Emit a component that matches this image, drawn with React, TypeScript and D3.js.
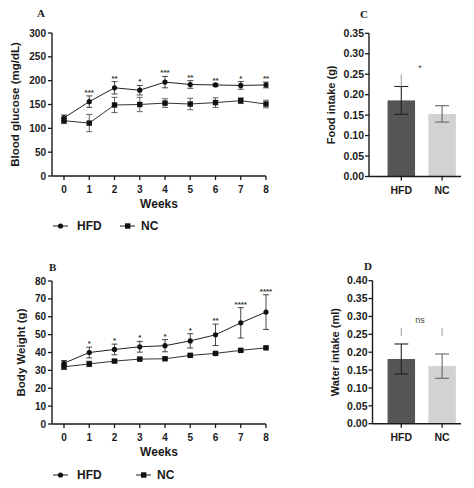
import React from "react";
import * as d3 from "d3";

const weeks = [0, 1, 2, 3, 4, 5, 6, 7, 8];
const glucoseHFD = [122, 156, 185, 180, 197, 192, 191, 190, 191];
const glucoseHFDErr = [6, 12, 13, 10, 12, 8, 3, 8, 6];
const glucoseNC = [116, 111, 149, 150, 153, 151, 154, 158, 151];
const glucoseNCErr = [6, 18, 16, 15, 9, 12, 10, 6, 8];
const glucoseSig = ["", "***", "**", "*", "***", "**", "**", "*", "**"];
const glucoseTicks = [0, 50, 100, 150, 200, 250, 300];

const weightHFD = [34, 40, 41.7, 43.2, 43.8, 46.5, 49.9, 56.6, 62.6];
const weightHFDErr = [1.5, 3, 3, 3, 3.4, 4, 6, 8.5, 9.7];
const weightNC = [32, 33.6, 35.2, 36.3, 36.5, 38.4, 39.5, 41.2, 42.6];
const weightNCErr = [1.5, 1.5, 0.8, 0.6, 0.6, 0.6, 0.6, 0.6, 0.6];
const weightSig = ["", "*", "*", "*", "*", "*", "**", "****", "****"];
const weightTicks = [0, 10, 20, 30, 40, 50, 60, 70, 80];

const groups = ["HFD", "NC"];
const food = [0.186, 0.153];
const foodErr = [0.034, 0.02];
const foodTicks = [0, 0.05, 0.1, 0.15, 0.2, 0.25, 0.3, 0.35];
const foodSig = "*";
const water = [0.181, 0.161];
const waterErr = [0.042, 0.034];
const waterTicks = [0, 0.05, 0.1, 0.15, 0.2, 0.25, 0.3, 0.35, 0.4];
const waterSig = "ns";

const FONT = "Liberation Sans, Arial, sans-serif";
const SERIF = "Liberation Serif, Times New Roman, serif";
const INK = "#1a1a1a";

function LinePanel({ letter, letterX, letterY, y, ticks, title, titleX, hfd, hfdErr, nc, ncErr, sig, legendY, ncLegendX }: any) {
  const x = d3.scaleLinear().domain([0, 8]).range([64, 266]);
  const axisX = 52;
  const y0 = y(0);
  const line = d3.line<number>().x((_, i) => x(weeks[i])).y((v) => y(v));
  const ytop = y.range()[1];
  const cap = 3;
  const errBars = (vals: number[], errs: number[], color: string) =>
    vals.map((v, i) => (
      <g key={i} stroke={color} strokeWidth={0.9}>
        <line x1={x(weeks[i])} x2={x(weeks[i])} y1={y(v - errs[i])} y2={y(v + errs[i])} />
        <line x1={x(weeks[i]) - cap} x2={x(weeks[i]) + cap} y1={y(v - errs[i])} y2={y(v - errs[i])} />
        <line x1={x(weeks[i]) - cap} x2={x(weeks[i]) + cap} y1={y(v + errs[i])} y2={y(v + errs[i])} />
      </g>
    ));
  return (
    <g fontFamily={FONT}>
      <text x={letterX} y={letterY} fontFamily={SERIF} fontWeight="bold" fontSize={11} fill={INK}>{letter}</text>
      <line x1={axisX} x2={axisX} y1={ytop} y2={y0} stroke={INK} strokeWidth={1.4} />
      {ticks.map((t: number) => (
        <g key={t}>
          <line x1={axisX - 4} x2={axisX} y1={y(t)} y2={y(t)} stroke={INK} strokeWidth={1.3} />
          <text x={axisX - 6} y={y(t)} dy="0.35em" textAnchor="end" fontSize={10} fontWeight="bold" fill={INK}>{t}</text>
        </g>
      ))}
      <text transform={`translate(${titleX},${(ytop + y0) / 2}) rotate(-90)`} textAnchor="middle" fontSize={11.5} fontWeight="bold" fill={INK}>{title}</text>
      <line x1={axisX} x2={x(8)} y1={y0} y2={y0} stroke={INK} strokeWidth={1.4} />
      {weeks.map((w) => (
        <g key={w}>
          <line x1={x(w)} x2={x(w)} y1={y0} y2={y0 + 4} stroke={INK} strokeWidth={1.3} />
          <text x={x(w)} y={y0 + 10} dy="0.71em" textAnchor="middle" fontSize={10} fontWeight="bold" fill={INK}>{w}</text>
        </g>
      ))}
      <text x={(axisX + x(8)) / 2} y={y0 + 32} textAnchor="middle" fontSize={12} fontWeight="bold" fill={INK}>Weeks</text>
      {errBars(nc, ncErr, "#555")}
      {errBars(hfd, hfdErr, "#333")}
      <path d={line(nc) || ""} fill="none" stroke="#333" strokeWidth={1} />
      <path d={line(hfd) || ""} fill="none" stroke="#222" strokeWidth={1} />
      {nc.map((v: number, i: number) => (
        <rect key={i} x={x(weeks[i]) - 2.7} y={y(v) - 2.7} width={5.4} height={5.4} fill="#111" />
      ))}
      {hfd.map((v: number, i: number) => (
        <circle key={i} cx={x(weeks[i])} cy={y(v)} r={2.6} fill="#111" />
      ))}
      {sig.map((s: string, i: number) => (
        <text key={i} x={x(weeks[i])} y={y(hfd[i] + hfdErr[i]) - 1} textAnchor="middle" fontSize={8} fontWeight="bold" fill="#333">{s}</text>
      ))}
      <line x1={53} x2={68} y1={legendY} y2={legendY} stroke={INK} strokeWidth={1} />
      <circle cx={60.5} cy={legendY} r={2.6} fill="#111" />
      <text x={77} y={legendY} dy="0.35em" fontSize={12} fontWeight="bold" fill={INK}>HFD</text>
      <line x1={ncLegendX} x2={ncLegendX + 15} y1={legendY} y2={legendY} stroke={INK} strokeWidth={1} />
      <rect x={ncLegendX + 5} y={legendY - 2.7} width={5.4} height={5.4} fill="#111" />
      <text x={ncLegendX + 21} y={legendY} dy="0.35em" fontSize={12} fontWeight="bold" fill={INK}>NC</text>
    </g>
  );
}

function BarPanel({ letter, letterX, letterY, y, ticks, title, axisX, vals, errs, sig, sigY, faint }: any) {
  const x = d3.scalePoint().domain(groups).range([401.3, 442.1]);
  const bw = 27.5;
  const y0 = y(0);
  const ytop = y.range()[1];
  const colors = ["#555555", "#d2d2d2"];
  const errColors = ["#222", "#666"];
  const cap = 7;
  return (
    <g fontFamily={FONT}>
      <text x={letterX} y={letterY} fontFamily={SERIF} fontWeight="bold" fontSize={11} fill={INK}>{letter}</text>
      {groups.map((g, i) => (
        <rect key={g} x={(x(g) as number) - bw / 2} y={y(vals[i])} width={bw} height={y0 - y(vals[i])} fill={colors[i]} />
      ))}
      {groups.map((g, i) => {
        const cx = x(g) as number;
        return (
          <g key={g} stroke={errColors[i]} strokeWidth={1.1}>
            <line x1={cx} x2={cx} y1={y(vals[i] - errs[i])} y2={y(vals[i] + errs[i])} />
            <line x1={cx - cap} x2={cx + cap} y1={y(vals[i] + errs[i])} y2={y(vals[i] + errs[i])} />
            <line x1={cx - cap} x2={cx + cap} y1={y(vals[i] - errs[i])} y2={y(vals[i] - errs[i])} />
          </g>
        );
      })}
      {faint.map((f: any, i: number) => (
        <line key={i} x1={x(f.g) as number} x2={x(f.g) as number} y1={y(f.a)} y2={y(f.b)} stroke="#aaa" strokeWidth={1.2} />
      ))}
      <text x={420} y={sigY} textAnchor="middle" fontSize={9} fill="#444">{sig}</text>
      <line x1={axisX} x2={axisX} y1={ytop} y2={y0} stroke={INK} strokeWidth={1.4} />
      {ticks.map((t: number) => (
        <g key={t}>
          <line x1={axisX - 4} x2={axisX} y1={y(t)} y2={y(t)} stroke={INK} strokeWidth={1.3} />
          <text x={axisX - 5} y={y(t)} dy="0.35em" textAnchor="end" fontSize={10.5} fontWeight="bold" fill={INK}>{t.toFixed(2)}</text>
        </g>
      ))}
      <text transform={`translate(${axisX - 34},${(ytop + y0) / 2}) rotate(-90)`} textAnchor="middle" fontSize={11} fontWeight="bold" fill={INK}>{title}</text>
      <line x1={axisX} x2={461} y1={y0} y2={y0} stroke={INK} strokeWidth={1.4} />
      {groups.map((g) => (
        <g key={g}>
          <line x1={x(g) as number} x2={x(g) as number} y1={y0} y2={y0 + 4} stroke={INK} strokeWidth={1.3} />
          <text x={x(g) as number} y={y0 + 10} dy="0.71em" textAnchor="middle" fontSize={10.5} fontWeight="bold" fill={INK}>{g}</text>
        </g>
      ))}
    </g>
  );
}

export default function App() {
  const yA = d3.scaleLinear().domain([0, 300]).range([176, 33]);
  const yB = d3.scaleLinear().domain([0, 80]).range([424, 281]);
  const yC = d3.scaleLinear().domain([0, 0.35]).range([176.5, 33.3]);
  const yD = d3.scaleLinear().domain([0, 0.4]).range([423.7, 280.7]);
  return (
    <svg width={474} height={488} style={{ position: "absolute", left: 0, top: 0, background: "#fff" }}>
      <rect width={474} height={488} fill="#fff" />
      <LinePanel letter="A" letterX={37} letterY={17} y={yA} ticks={glucoseTicks} title="Blood glucose (mg/dL)" titleX={19}
        hfd={glucoseHFD} hfdErr={glucoseHFDErr} nc={glucoseNC} ncErr={glucoseNCErr} sig={glucoseSig} legendY={226} ncLegendX={120} />
      <LinePanel letter="B" letterX={49} letterY={271} y={yB} ticks={weightTicks} title="Body Weight (g)" titleX={25}
        hfd={weightHFD} hfdErr={weightHFDErr} nc={weightNC} ncErr={weightNCErr} sig={weightSig} legendY={475} ncLegendX={136} />
      <BarPanel letter="C" letterX={360} letterY={18} y={yC} ticks={foodTicks} title="Food intake (g)" axisX={369}
        vals={food} errs={foodErr} sig={foodSig} sigY={71} faint={[{ g: "HFD", a: 0.22, b: 0.25 }]} />
      <BarPanel letter="D" letterX={364} letterY={270} y={yD} ticks={waterTicks} title="Water intake (ml)" axisX={372.5}
        vals={water} errs={waterErr} sig={waterSig} sigY={323} faint={[{ g: "HFD", a: 0.245, b: 0.267 }, { g: "NC", a: 0.245, b: 0.267 }]} />
    </svg>
  );
}
